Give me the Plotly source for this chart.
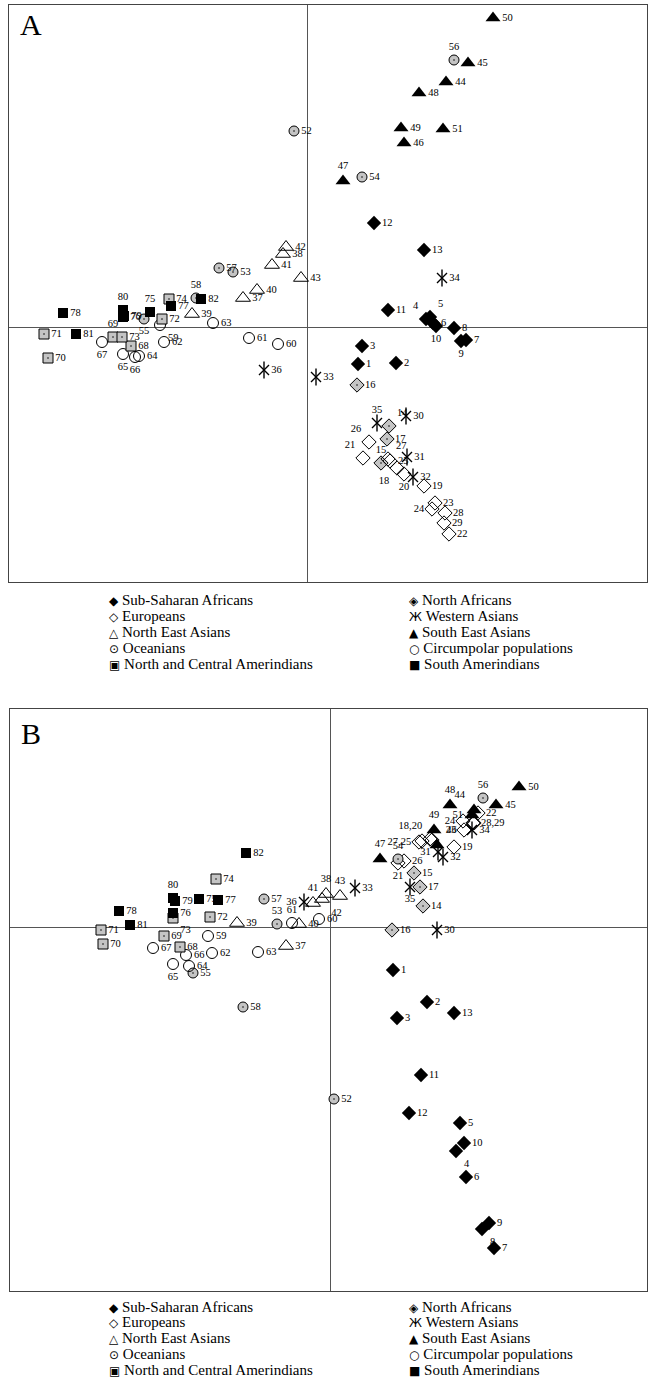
import plotly.graph_objects as go

# Population ids 1..82
pop_ids = list(range(1, 83))

# Panel A scores (dimension 1, dimension 2), in id order
a_dim1 = [0.51, 0.89, 0.55, 1.19, 1.23, 1.26, 1.59, 1.47, 1.54, 1.29,
          0.81, 0.67, 1.17, 0.82, 0.74, 0.50, 0.80, 0.90, 1.17, 0.97,
          0.56, 1.42, 1.28, 1.25, 0.83, 0.62, 0.81, 1.38, 1.37, 0.99,
          1.00, 1.06, 0.09, 1.35, 0.70, -0.43, -0.64, -0.24, -1.15, -0.50,
          -0.35, -0.21, -0.06, 1.39, 1.61, 0.97, 0.36, 1.12, 0.94, 1.86,
          1.36, -0.13, -0.74, 0.55, -1.63, 1.47, -0.88, -1.11, -1.47, -0.29,
          -0.58, -1.43, -0.94, -1.68, -1.84, -1.72, -2.05, -1.76, -1.94, -2.59,
          -2.63, -1.45, -1.85, -1.38, -1.57, -1.84, -1.36, -2.44, -1.83, -1.84,
          -2.31, -1.06]
a_dim2 = [-0.37, -0.36, -0.19, 0.08, 0.10, 0.04, -0.13, -0.01, -0.14, 0.01,
          0.17, 1.04, 0.77, -0.99, -1.36, -0.58, -1.12, -1.41, -1.59, -1.47,
          -1.31, -2.07, -1.76, -1.82, -1.34, -1.15, -1.32, -1.86, -1.96, -0.89,
          -1.30, -1.50, -0.50, 0.49, -0.96, -0.43, 0.29, 0.73, 0.13, 0.37,
          0.62, 0.80, 0.49, 2.45, 2.64, 1.84, 1.46, 2.34, 1.99, 3.09,
          1.98, 1.96, 0.55, 1.50, 0.08, 2.67, 0.59, 0.29, 0.02, -0.17,
          -0.11, -0.15, 0.04, -0.29, -0.27, -0.30, -0.15, -0.19, -0.10, -0.31,
          -0.07, 0.08, -0.10, 0.28, 0.15, 0.10, 0.21, 0.14, 0.11, 0.17,
          -0.07, 0.28]

# Panel B scores
b_dim1 = [0.63, 0.97, 0.67, 1.26, 1.30, 1.36, 1.64, 1.52, 1.59, 1.34,
          0.91, 0.79, 1.24, 0.93, 0.84, 0.62, 0.90, 1.00, 1.24, 1.02,
          0.68, 1.48, 1.34, 1.33, 0.92, 0.74, 0.89, 1.43, 1.44, 1.07,
          1.08, 1.13, 0.25, 1.42, 0.80, -0.26, -0.44, -0.04, -0.93, -0.31,
          -0.17, -0.08, 0.10, 1.44, 1.66, 1.07, 0.50, 1.20, 1.04, 1.89,
          1.42, 0.04, -0.53, 0.68, -1.37, 1.53, -0.66, -0.87, -1.22, -0.11,
          -0.38, -1.18, -0.72, -1.41, -1.57, -1.44, -1.77, -1.50, -1.66, -2.27,
          -2.29, -1.20, -1.57, -1.14, -1.31, -1.57, -1.12, -2.11, -1.55, -1.57,
          -2.00, -0.84]
b_dim2 = [-0.43, -0.75, -0.91, -2.24, -1.96, -2.50, -3.21, -3.02, -2.96, -2.16,
          -1.48, -1.86, -0.86, 0.21, 0.54, -0.03, 0.40, 0.88, 0.80, 0.87,
          0.64, 1.14, 0.97, 1.06, 0.86, 0.66, 0.85, 1.04, 1.04, -0.03,
          0.75, 0.70, 0.39, 0.97, 0.40, 0.25, -0.19, 0.33, 0.04, 0.03,
          0.24, 0.28, 0.31, 1.17, 1.22, 0.82, 0.68, 1.22, 0.97, 1.40,
          1.12, -1.72, 0.03, 0.68, -0.46, 1.29, 0.28, -0.80, -0.09, 0.08,
          0.04, -0.26, -0.25, -0.39, -0.37, -0.28, -0.21, -0.20, -0.09, -0.17,
          -0.03, 0.10, 0.09, 0.48, 0.28, 0.14, 0.27, 0.16, 0.26, 0.29,
          0.02, 0.74]

# Groups: (name, first id, last id)
group_names = ["Sub-Saharan Africans", "North Africans", "Europeans", "Western Asians",
               "North East Asians", "South East Asians", "Oceanians",
               "Circumpolar populations", "North and Central Amerindians", "South Amerindians"]
group_first = [1, 14, 18, 30, 37, 44, 52, 59, 68, 75]
group_last = [13, 17, 29, 36, 43, 51, 58, 67, 74, 82]

# ---- styles (not data) ----
GRAY = "#c4c4c4"
styles = {
    "Sub-Saharan Africans": [dict(symbol="diamond", size=11, color="black", line=dict(width=0))],
    "North Africans": [dict(symbol="diamond-dot", size=11, color=GRAY, line=dict(width=1, color="black"))],
    "Europeans": [dict(symbol="diamond-open", size=11, color="black", line=dict(width=1))],
    "Western Asians": [dict(symbol="x-thin-open", size=10, color="black", line=dict(width=1.4)),
                       dict(symbol="line-ns-open", size=12, color="black", line=dict(width=1.4))],
    "North East Asians": [dict(symbol="triangle-up-open", size=13, color="black", line=dict(width=1))],
    "South East Asians": [dict(symbol="triangle-up", size=13, color="black", line=dict(width=0))],
    "Oceanians": [dict(symbol="circle-dot", size=10, color=GRAY, line=dict(width=1, color="black"))],
    "Circumpolar populations": [dict(symbol="circle-open", size=11, color="black", line=dict(width=1))],
    "North and Central Amerindians": [dict(symbol="square-dot", size=10, color=GRAY, line=dict(width=1, color="black"))],
    "South Amerindians": [dict(symbol="square", size=10, color="black", line=dict(width=0))],
}
legend_glyph = {
    "Sub-Saharan Africans": "◆", "North Africans": "◈", "Europeans": "◇",
    "Western Asians": "Ж", "North East Asians": "△", "South East Asians": "▲",
    "Oceanians": "⊙", "Circumpolar populations": "○",
    "North and Central Amerindians": "▣", "South Amerindians": "■",
}

pos_a = {80: "top center", 75: "top center", 58: "top center", 55: "bottom center",
         59: "bottom right", 69: "top center", 67: "bottom center", 65: "bottom center",
         66: "bottom center", 47: "top center", 56: "top center", 4: "top left",
         5: "top right", 10: "bottom center", 9: "bottom center", 35: "top center",
         14: "top right", 26: "top left", 21: "top left", 15: "top center",
         27: "top right", 18: "bottom left", 20: "bottom center", 24: "middle left"}
pos_b = {80: "top center", 36: "middle left", 41: "top center", 38: "top center",
         42: "bottom right", 43: "top center", 73: "bottom right", 53: "top center",
         61: "top center", 65: "bottom center", 56: "top center", 48: "top center",
         44: "top left", 51: "middle left", 24: "middle left", 23: "middle left",
         49: "top center", 18: "top left", 27: "middle left", 46: "top right",
         31: "middle left", 47: "top center", 54: "top center", 21: "bottom center",
         35: "bottom center", 8: "bottom right", 4: "bottom right"}
text_b = {18: "18,20", 20: "", 27: "27,25", 25: "", 28: "28,29", 29: ""}

SERIF = "Liberation Serif, Times New Roman, serif"
LABEL_FONT = dict(family=SERIF, size=10.5, color="black")

fig = go.Figure()


def add_panel(d1, d2, pos, textmap, xa, ya):
    for name, f, l in zip(group_names, group_first, group_last):
        idx = [i for i in pop_ids if f <= i <= l]
        xs = [d1[i - 1] for i in idx]
        ys = [d2[i - 1] for i in idx]
        txt = [textmap.get(i, str(i)) for i in idx]
        tpos = [pos.get(i, "middle right") for i in idx]
        for k, st in enumerate(styles[name]):
            fig.add_trace(go.Scatter(
                x=xs, y=ys, xaxis=xa, yaxis=ya,
                mode="markers+text" if k == 0 else "markers",
                text=txt if k == 0 else None,
                textposition=tpos, textfont=LABEL_FONT,
                marker=st, showlegend=False, hoverinfo="skip", cliponaxis=False))


add_panel(a_dim1, a_dim2, pos_a, {}, "x", "y")
add_panel(b_dim1, b_dim2, pos_b, text_b, "x2", "y2")

W, H = 649, 1381


def px(v):
    return min(1.0, max(0.0, v / W))


def py(v):
    return min(1.0, max(0.0, 1 - v / H))


ax_common = dict(showgrid=False, showticklabels=False, ticks="", zeroline=True,
                 zerolinecolor="#555", zerolinewidth=1, showline=True, mirror=True,
                 linecolor="#444", linewidth=1)

fig.update_layout(
    width=W, height=H, margin=dict(l=0, r=0, t=0, b=0),
    paper_bgcolor="white", plot_bgcolor="white",
    xaxis=dict(domain=[px(9), px(647)], range=[-2.98, 3.40], **ax_common),
    yaxis=dict(domain=[py(582), py(5)], range=[-2.55, 3.22], **ax_common),
    xaxis2=dict(domain=[px(10), px(647)], range=[-3.20, 3.17], anchor="y2", **ax_common),
    yaxis2=dict(domain=[py(1291), py(709)], range=[-3.64, 2.18], anchor="x2", **ax_common),
)

annotations = []
for letter, cy in (("A", 25), ("B", 733)):
    annotations.append(dict(text=letter, xref="paper", yref="paper", x=px(31), y=py(cy),
                            xanchor="center", yanchor="middle", showarrow=False,
                            font=dict(family=SERIF, size=30, color="black")))

legend_rows = {"A": [600, 616, 632, 648, 664], "B": [1307, 1322, 1338, 1354, 1370]}
for panel, rows in legend_rows.items():
    for gi, name in enumerate(group_names):
        row = gi // 2
        col = gi % 2
        x0 = 107 if col == 0 else 407
        glyph = legend_glyph[name]
        txt = ('<span style="font-family:DejaVu Sans;font-size:12px">' + glyph + '</span> ' + name)
        annotations.append(dict(text=txt, xref="paper", yref="paper", x=px(x0),
                                y=py(rows[row]), xanchor="left", yanchor="middle",
                                showarrow=False,
                                font=dict(family=SERIF, size=15, color="black")))

fig.update_layout(annotations=annotations)
# Remove the default 8px page margin so the figure fills the window exactly.
fig.write_html("out.html",
               config={"displayModeBar": False, "staticPlot": True},
               post_script="document.body.style.margin='0';document.body.style.overflow='hidden';")
